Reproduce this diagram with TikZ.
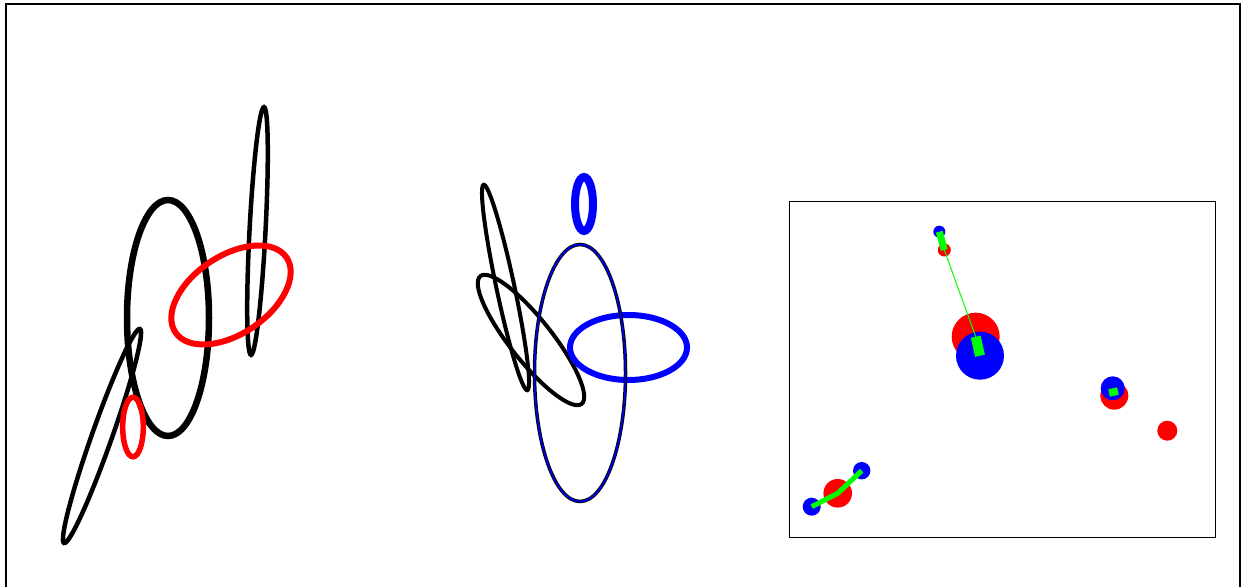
\documentclass[tikz,border=0pt]{standalone}
\begin{document}
\begin{tikzpicture}[x=1pt,y=1pt,
  dot/.style={circle,fill=#1,draw=none,inner sep=0pt},
  blk/.style={draw=black,line width=#1},
  redring/.style={draw=red,line width=#1},
  bluering/.style={draw=blue,line width=#1},
  errbar/.style={draw=green,line width=#1,line cap=butt},
]
\useasboundingbox (0,0) rectangle (1244,586);
\clip (0,0) rectangle (1244,586);
% outer frame
\draw[line width=2.5pt] (6,582) rectangle (1240,-20);

% ---------- left panel ----------
\draw[blk=6.5pt] (168,268) ellipse [x radius=41, y radius=118];
\draw[blk=4.5pt, rotate around={87:(257.5,355)}] (257.5,355) ellipse [x radius=124, y radius=8];
\draw[blk=4.5pt, rotate around={70.5:(102,150)}] (102,150) ellipse [x radius=113.5, y radius=10];
\draw[redring=6pt, rotate around={34:(231,291)}] (231,291) ellipse [x radius=67, y radius=39];
\draw[redring=5.5pt] (133,159) ellipse [x radius=10.3, y radius=29.8];

% ---------- middle panel ----------
\draw[blk=4pt, rotate around={-51.6:(531,246)}] (531,246) ellipse [x radius=81.5, y radius=21];
\draw[blk=4pt, rotate around={102:(505.5,298.5)}] (505.5,298.5) ellipse [x radius=105, y radius=9];
\draw[bluering=6pt] (628.5,238.5) ellipse [x radius=58.5, y radius=32.5];
\draw[blk=3.5pt] (580,213) ellipse [x radius=45.5, y radius=128.5];
\draw[bluering=1.5pt] (580,213) ellipse [x radius=45.5, y radius=128.5];
\draw[bluering=8pt] (584,382) ellipse [x radius=9, y radius=27];

% ---------- right panel ----------
\draw[line width=1pt] (789,384) rectangle (1215,48.5);

\node[dot=red,  minimum size=13pt] (r1) at (944.3,336) {};
\node[dot=blue, minimum size=12pt] (b1) at (939.3,354.3) {};
\node[dot=red,  minimum size=48pt] (r2) at (975.7,249.3) {};
\node[dot=blue, minimum size=48pt] (b2) at (980,230.3) {};
\node[dot=red,  minimum size=28pt] (r3) at (1114.3,190.3) {};
\node[dot=blue, minimum size=24pt] (b3) at (1112.7,197.7) {};
\node[dot=red,  minimum size=20pt] (r4) at (1167.3,155.3) {};
\node[dot=red,  minimum size=28.6pt] (r5) at (837.7,92.7) {};
\node[dot=blue, minimum size=18pt] (b5) at (811.7,79.3) {};
\node[dot=blue, minimum size=17.4pt] (b6) at (861.7,115.3) {};

\draw[errbar=7pt] (b1.center) -- (r1.center);
\draw[errbar=10pt] (r2.center) -- (b2.center);
\draw[errbar=9pt] (b3.center) -- (r3.center);
\draw[errbar=1pt] (r1.center) -- (r2.center);
\draw[errbar=5pt, line join=round] (b5.center) -- (r5.center) -- (b6.center);
\end{tikzpicture}
\end{document}
